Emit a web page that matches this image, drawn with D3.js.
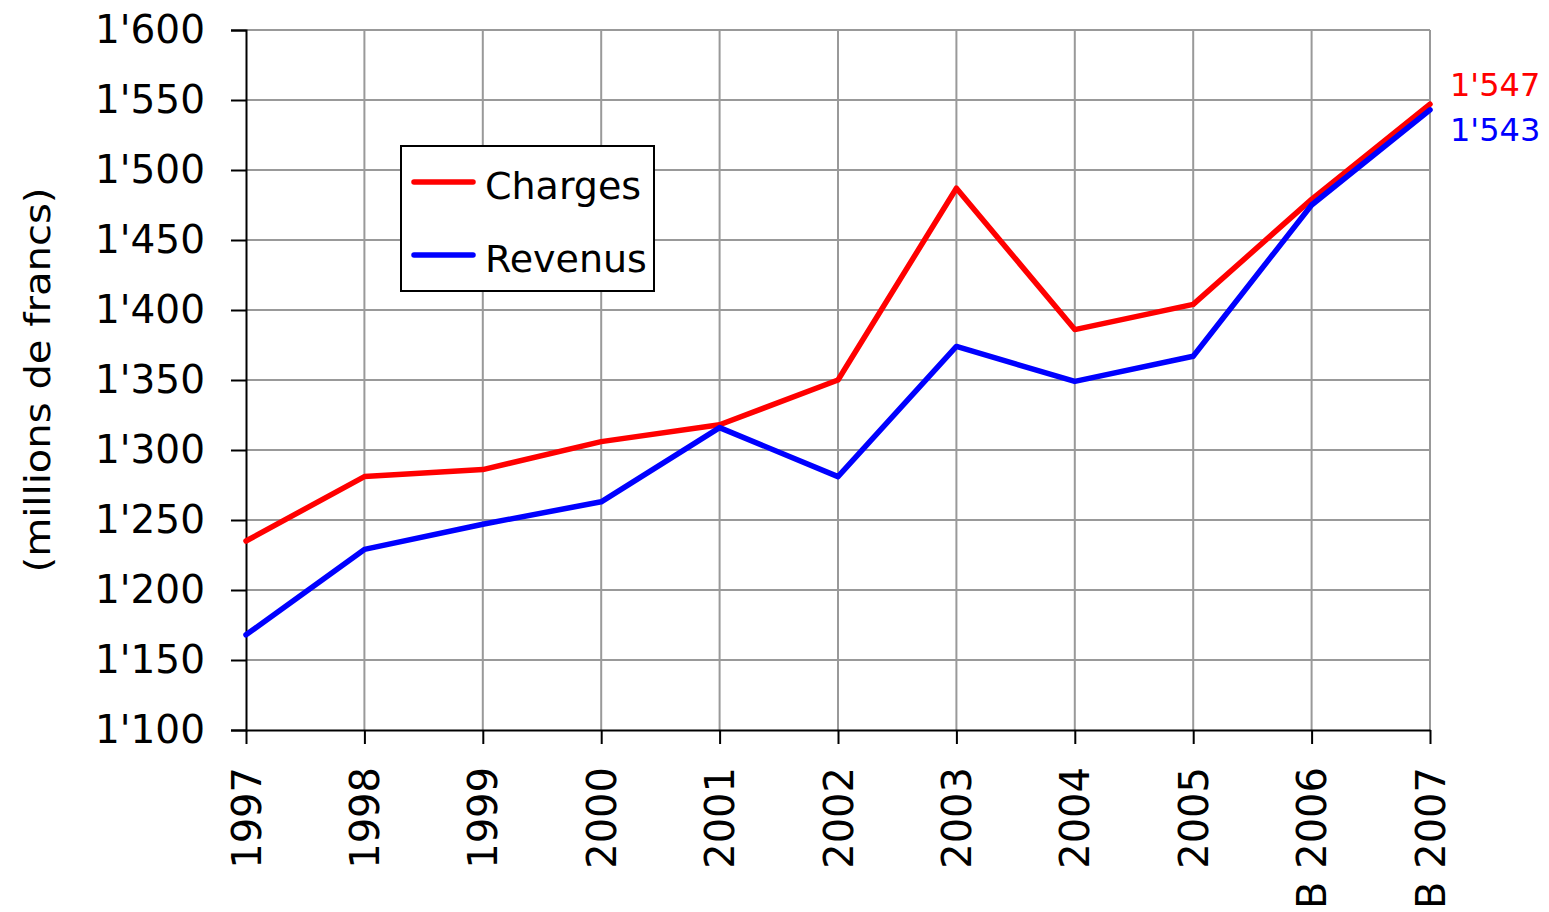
<!DOCTYPE html>
<html>
<head>
<meta charset="utf-8">
<script src="https://cdn.jsdelivr.net/npm/d3@7"></script>
<style>
  body { margin: 0; background: #fff; }
  svg text { font-family: "Comic Sans MS", "DejaVu Sans", sans-serif; }
</style>
</head>
<body>
<div id="chart"></div>
<script>
// Data ----------------------------------------------
const years = ["1997", "1998", "1999", "2000", "2001", "2002", "2003", "2004", "2005", "B 2006", "B 2007"];
const charges = [1235, 1281, 1286, 1306, 1318, 1350, 1487, 1386, 1404, 1479, 1547];
const revenus = [1168, 1229, 1247, 1263, 1316, 1281, 1374, 1349, 1367, 1475, 1543];
const yTicks = [1100, 1150, 1200, 1250, 1300, 1350, 1400, 1450, 1500, 1550, 1600];
const seriesNames = ["Charges", "Revenus"];

// Constants ----------------------------------------------
const width = 1549;
const height = 912;
const margin = {left: 246, right: 119, top: 30, bottom: 182};
const colors = ["#ff0000", "#0000ff"];
const gridColor = "#999999";
const fontFamily = "'Comic Sans MS', 'DejaVu Sans', sans-serif";
const fmt = d => d3.format(",")(d).replace(",", "'");

const svg = d3.select("#chart")
  .append("svg")
  .attr("width", width)
  .attr("height", height);

// Scales ----------------------------------------------
const xScale = d3.scalePoint()
  .domain(years)
  .range([margin.left, width - margin.right]);

const yScale = d3.scaleLinear()
  .domain([1100, 1600])
  .range([height - margin.bottom, margin.top]);

// Grid
svg.append("g")
  .selectAll("line")
  .data(yTicks.slice(1))
  .enter()
  .append("line")
  .attr("x1", margin.left)
  .attr("x2", width - margin.right)
  .attr("y1", d => yScale(d))
  .attr("y2", d => yScale(d))
  .attr("stroke", gridColor)
  .attr("stroke-width", 2);

svg.append("g")
  .selectAll("line")
  .data(years.slice(1))
  .enter()
  .append("line")
  .attr("x1", d => xScale(d))
  .attr("x2", d => xScale(d))
  .attr("y1", margin.top)
  .attr("y2", height - margin.bottom)
  .attr("stroke", gridColor)
  .attr("stroke-width", 2);

// Axes
const yAxis = svg.append("g")
  .attr("transform", `translate(${margin.left},0)`)
  .call(d3.axisLeft(yScale).tickValues(yTicks).tickFormat(fmt).tickSize(15).tickPadding(26));
yAxis.select(".domain").attr("stroke", "#000").attr("stroke-width", 2);
yAxis.selectAll(".tick line").attr("stroke", "#000").attr("stroke-width", 2);
yAxis.selectAll("text")
  .attr("font-size", 39)
  .attr("fill", "#000")
  .attr("font-family", fontFamily);

const xAxis = svg.append("g")
  .attr("transform", `translate(0,${height - margin.bottom})`)
  .call(d3.axisBottom(xScale).tickSize(14).tickSizeOuter(0));
xAxis.select(".domain").attr("stroke", "#000").attr("stroke-width", 2);
xAxis.selectAll(".tick line").attr("stroke", "#000").attr("stroke-width", 2);
xAxis.selectAll("text")
  .attr("font-size", 40)
  .attr("fill", "#000")
  .attr("font-family", fontFamily)
  .attr("text-anchor", "end")
  .attr("transform", "rotate(-90)")
  .attr("x", -37)
  .attr("y", 0)
  .attr("dy", "0.35em");

// Y title
svg.append("text")
  .attr("transform", "translate(37,380) rotate(-90)")
  .attr("text-anchor", "middle")
  .attr("dominant-baseline", "central")
  .attr("font-size", 36)
  .attr("textLength", 385)
  .attr("lengthAdjust", "spacingAndGlyphs")
  .text("(millions de francs)");

// Lines
const line = d3.line()
  .x((d, i) => xScale(years[i]))
  .y(d => yScale(d));

[charges, revenus].forEach((s, k) => {
  svg.append("path")
    .datum(s)
    .attr("d", line)
    .attr("fill", "none")
    .attr("stroke", colors[k])
    .attr("stroke-width", 5.5)
    .attr("stroke-linejoin", "round")
    .attr("stroke-linecap", "round");
});

// End labels
svg.append("text")
  .attr("x", 1450).attr("y", 96)
  .attr("font-size", 32)
  .attr("fill", colors[0])
  .text(fmt(charges[charges.length - 1]));
svg.append("text")
  .attr("x", 1450).attr("y", 141)
  .attr("font-size", 32)
  .attr("fill", colors[1])
  .text(fmt(revenus[revenus.length - 1]));

// Legend
const legend = svg.append("g").attr("transform", "translate(401,146)");
legend.append("rect")
  .attr("width", 253).attr("height", 145)
  .attr("fill", "#fff").attr("stroke", "#000").attr("stroke-width", 2);
seriesNames.forEach((name, k) => {
  const ly = 36 + k * 73;
  legend.append("line")
    .attr("x1", 13).attr("x2", 72)
    .attr("y1", ly).attr("y2", ly)
    .attr("stroke", colors[k]).attr("stroke-width", 5.5)
    .attr("stroke-linecap", "round");
  legend.append("text")
    .attr("x", 84).attr("y", ly + 4)
    .attr("dominant-baseline", "central")
    .attr("font-size", 38)
    .text(name);
});
</script>
</body>
</html>
